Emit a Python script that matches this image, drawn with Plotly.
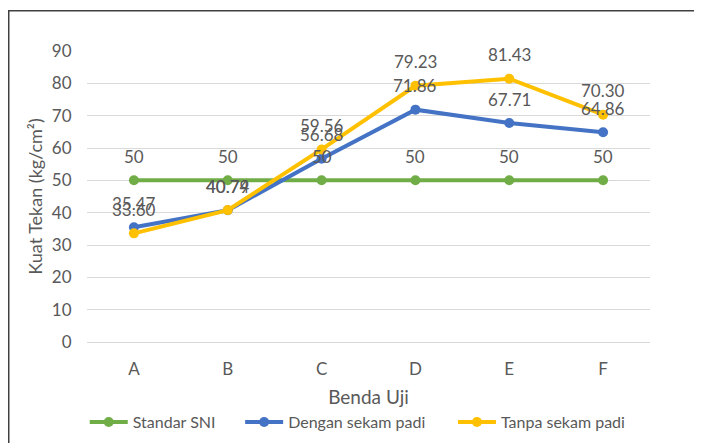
import plotly.graph_objects as go

categories = ["A", "B", "C", "D", "E", "F"]
standar_sni = [50, 50, 50, 50, 50, 50]
dengan_sekam = [35.47, 40.74, 56.68, 71.86, 67.71, 64.86]
tanpa_sekam = [33.60, 40.79, 59.56, 79.23, 81.43, 70.30]
y_ticks = [0, 10, 20, 30, 40, 50, 60, 70, 80, 90]

series = [
    ("Standar SNI", standar_sni, "#70AD47", "{:.0f}", "legend", -0.004),
    ("Dengan sekam padi", dengan_sekam, "#4472C4", "{:.2f}", "legend2", 0.272),
    ("Tanpa sekam padi", tanpa_sekam, "#FFC000", "{:.2f}", "legend3", 0.650),
]

FONT = "Lato"
GRAY = "#595959"
fig = go.Figure()
annotations = []
legends = {}
for name, vals, color, fmt, leg, lx in series:
    fig.add_trace(go.Scatter(
        x=categories, y=vals, name=name, mode="lines+markers",
        line=dict(color=color, width=4),
        marker=dict(color=color, size=10),
        legend=leg,
    ))
    legends[leg] = dict(orientation="h", x=lx, xanchor="left", y=-0.275, yanchor="middle",
                        font=dict(family=FONT, size=16, color=GRAY),
                        itemwidth=38, bgcolor="rgba(0,0,0,0)")
    for c, v in zip(categories, vals):
        annotations.append(dict(
            x=c, y=v, xref="x", yref="y", text=fmt.format(v),
            showarrow=False, yshift=24,
            font=dict(family=FONT, size=17, color=GRAY),
        ))

# plot area in figure coords: x 79..642, y 43..334 (page body adds 8px offset)
fig.update_layout(
    width=702, height=443,
    margin=dict(l=79, r=60, t=43, b=109, autoexpand=False),
    paper_bgcolor="white", plot_bgcolor="white",
    font=dict(family=FONT, size=17, color=GRAY),
    showlegend=True,
    annotations=annotations,
    shapes=[dict(type="rect", xref="paper", yref="paper",
                 x0=-0.139, x1=1.092, y0=-0.40, y1=1.138,
                 line=dict(color="#404040", width=1.5))],
    **legends,
)
fig.update_xaxes(
    type="category", range=[-0.5, 5.5], showgrid=False, showline=False, zeroline=False,
    tickfont=dict(family=FONT, size=17, color=GRAY),
    title=dict(text="Benda Uji", standoff=12,
               font=dict(family=FONT, size=19, color=GRAY)),
    ticks="outside", ticklen=12, tickcolor="rgba(0,0,0,0)",
)
fig.update_yaxes(
    range=[0, 90], tickvals=y_ticks, showgrid=True, gridcolor="#D9D9D9",
    gridwidth=1, zeroline=True, zerolinecolor="#D9D9D9", zerolinewidth=1,
    showline=False,
    tickfont=dict(family=FONT, size=17, color=GRAY),
    ticks="outside", ticklen=11, tickcolor="rgba(0,0,0,0)",
    title=dict(text="Kuat Tekan (kg/cm²)", standoff=4,
               font=dict(family=FONT, size=18, color=GRAY)),
)

fig.write_html("out.html")
